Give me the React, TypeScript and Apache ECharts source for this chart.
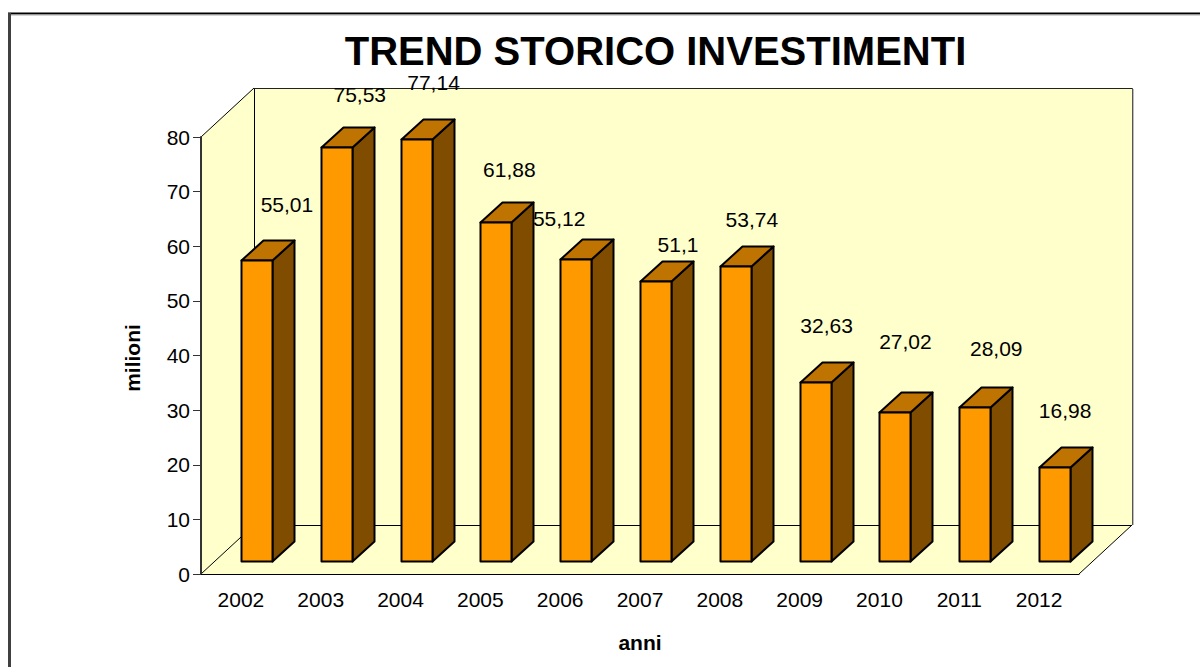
import React, { useEffect, useRef } from "react";
import * as echarts from "echarts";

const years = ["2002", "2003", "2004", "2005", "2006", "2007", "2008", "2009", "2010", "2011", "2012"];
const values = [55.01, 75.53, 77.14, 61.88, 55.12, 51.1, 53.74, 32.63, 27.02, 28.09, 16.98];
// hand-placed data label nudges, relative to each bar's top-front centre
const labelNudgeX = [30, 23, 17, 13, -17, 22, 16, 11, 10, 21, 10];
const labelNudgeY = [-56, -54, -57, -53, -41, -37, -48, -57, -72, -59, -58];
const yTicks = { min: 0, max: 80, interval: 10 };

const FONT = '"Liberation Sans", Arial, sans-serif';
const WALL_DX = 53;
const WALL_DY = -49;
const BAR_W = 31;
const BAR_DX = 22;
const BAR_DY = -20;
const BAR_LIFT = 13;

export default function App() {
  const ref = useRef<HTMLDivElement>(null);
  useEffect(() => {
    const chart = echarts.init(ref.current!, undefined, { renderer: "svg" });
    const lineStyle = { stroke: "#000", lineWidth: 1, fill: "none" };
    chart.setOption({
      animation: false,
      backgroundColor: "#fff",
      title: {
        text: "TREND STORICO INVESTIMENTI",
        left: 650.5,
        top: 26,
        textAlign: "center",
        textStyle: { fontFamily: FONT, fontSize: 40, fontWeight: "bold", color: "#000" },
      },
      grid: { left: 201, right: 121, top: 137, bottom: 93 },
      xAxis: {
        type: "category",
        data: years,
        z: 5,
        name: "anni",
        nameLocation: "middle",
        nameGap: 58,
        nameTextStyle: { fontFamily: FONT, fontSize: 21, fontWeight: "bold", color: "#000" },
        axisLine: { lineStyle: { color: "#000", width: 1 } },
        axisTick: { length: 8, lineStyle: { color: "#333", width: 1 } },
        axisLabel: { fontFamily: FONT, fontSize: 21, color: "#000", margin: 15 },
      },
      yAxis: {
        type: "value",
        ...yTicks,
        z: 5,
        name: "milioni",
        nameLocation: "middle",
        nameGap: 58,
        nameTextStyle: { fontFamily: FONT, fontSize: 21, fontWeight: "bold", color: "#000", padding: [0, 5, 0, 0] },
        axisLine: { show: true, lineStyle: { color: "#333", width: 2 } },
        axisTick: { show: true, length: 8, lineStyle: { color: "#333", width: 1 } },
        axisLabel: { fontFamily: FONT, fontSize: 21, color: "#000", margin: 11 },
        splitLine: { show: false },
      },
      graphic: [
        { type: "line", shape: { x1: 8, y1: 13.5, x2: 1200, y2: 13.5 }, style: { stroke: "#000", lineWidth: 2 } },
        { type: "line", shape: { x1: 10, y1: 15, x2: 1200, y2: 15 }, style: { stroke: "#aaa", lineWidth: 1 } },
        { type: "line", shape: { x1: 9.5, y1: 13, x2: 9.5, y2: 667 }, style: { stroke: "#404040", lineWidth: 3 } },
      ],
      series: [
        {
          type: "custom",
          z: 1,
          silent: true,
          clip: false,
          data: [[0, 0]],
          renderItem: (params: any) => {
            const { x, y, width, height } = params.coordSys;
            const b = y + height;
            const r = x + width;
            const fill = "#FFFFCC";
            return {
              type: "group",
              children: [
                { type: "polygon", shape: { points: [[x, y], [x + WALL_DX, y + WALL_DY], [x + WALL_DX, b + WALL_DY], [x, b]] }, style: { fill } },
                { type: "polygon", shape: { points: [[x + WALL_DX, y + WALL_DY], [r + WALL_DX, y + WALL_DY], [r + WALL_DX, b + WALL_DY], [x + WALL_DX, b + WALL_DY]] }, style: { fill } },
                { type: "polygon", shape: { points: [[x, b], [r, b], [r + WALL_DX, b + WALL_DY], [x + WALL_DX, b + WALL_DY]] }, style: { fill } },
                { type: "line", shape: { x1: x, y1: y, x2: x + WALL_DX, y2: y + WALL_DY }, style: lineStyle },
                { type: "line", shape: { x1: x + WALL_DX + 0.5, y1: y + WALL_DY, x2: x + WALL_DX + 0.5, y2: b + WALL_DY }, style: lineStyle },
                { type: "line", shape: { x1: x + WALL_DX, y1: y + WALL_DY + 0.5, x2: r + WALL_DX, y2: y + WALL_DY + 0.5 }, style: { ...lineStyle, stroke: "#222" } },
                { type: "line", shape: { x1: r + WALL_DX + 0.5, y1: y + WALL_DY, x2: r + WALL_DX + 0.5, y2: b + WALL_DY }, style: { ...lineStyle, stroke: "#555" } },
                { type: "line", shape: { x1: r + WALL_DX + 1.5, y1: y + WALL_DY + 1, x2: r + WALL_DX + 1.5, y2: b + WALL_DY }, style: { ...lineStyle, stroke: "#bbb" } },
                { type: "line", shape: { x1: x + WALL_DX, y1: b + WALL_DY + 0.5, x2: r + WALL_DX, y2: b + WALL_DY + 0.5 }, style: lineStyle },
                { type: "line", shape: { x1: x, y1: b, x2: x + WALL_DX, y2: b + WALL_DY }, style: lineStyle },
                { type: "line", shape: { x1: r, y1: b, x2: r + WALL_DX, y2: b + WALL_DY }, style: lineStyle },
              ],
            };
          },
        },
        {
          type: "custom",
          z: 2,
          silent: true,
          clip: false,
          encode: { x: 0, y: 1 },
          data: values.map((v, i) => [i, v]),
          renderItem: (_: any, api: any) => {
            const [cx, top0] = api.coord([api.value(0), api.value(1)]);
            const [, base0] = api.coord([api.value(0), 0]);
            const l = Math.round(cx) + 0.5;
            const r = l + BAR_W;
            const t = Math.round(top0) - BAR_LIFT - 1 + 0.5;
            const b = Math.round(base0) - BAR_LIFT + 0.5;
            const stroke = { stroke: "#000", lineWidth: 2, lineJoin: "round" };
            return {
              type: "group",
              children: [
                { type: "polygon", shape: { points: [[r, t], [r + BAR_DX, t + BAR_DY], [r + BAR_DX, b + BAR_DY], [r, b]] }, style: { fill: "#7F4C00", ...stroke } },
                { type: "polygon", shape: { points: [[l, t], [l + BAR_DX, t + BAR_DY], [r + BAR_DX, t + BAR_DY], [r, t]] }, style: { fill: "#BF7300", ...stroke } },
                { type: "polygon", shape: { points: [[l, t], [r, t], [r, b], [l, b]] }, style: { fill: "#FF9900", ...stroke } },
              ],
            };
          },
        },
        {
          type: "custom",
          z: 3,
          silent: true,
          clip: false,
          encode: { x: 0, y: 1 },
          data: values.map((v, i) => [i, v]),
          renderItem: (params: any, api: any) => {
            const i = params.dataIndex;
            const [cx, top0] = api.coord([api.value(0), api.value(1)]);
            return {
              type: "text",
              x: cx + 16 + labelNudgeX[i],
              y: top0 - BAR_LIFT + labelNudgeY[i],
              style: {
                text: String(values[i]).replace(".", ","),
                fontFamily: FONT,
                fontSize: 21,
                fill: "#000",
                align: "center",
                verticalAlign: "middle",
              },
            };
          },
        },
      ],
    });
    return () => chart.dispose();
  }, []);
  return <div ref={ref} style={{ position: "fixed", left: 0, top: 0, width: 1200, height: 667 }} />;
}
